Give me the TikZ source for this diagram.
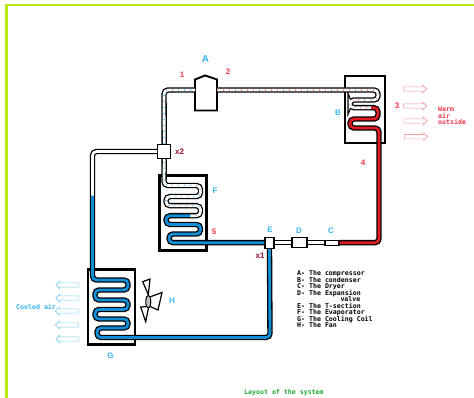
\documentclass[tikz,border=0pt]{standalone}
\usepackage{fontspec}
\setmainfont{Liberation Sans}
\setmonofont{DejaVu Sans Mono}
\setlength{\normallineskiplimit}{-5pt}
\setlength{\lineskiplimit}{-5pt}
\definecolor{frame}{HTML}{B9E80F}
\definecolor{coolblue}{HTML}{0F8FD8}
\definecolor{hotred}{HTML}{E01B24}
\definecolor{labblue}{HTML}{35B4F0}
\definecolor{labred}{HTML}{F0384A}
\definecolor{darkred}{HTML}{A01030}
\definecolor{airred}{HTML}{F59AA0}
\definecolor{airblue}{HTML}{7CCFF5}
\definecolor{capgreen}{HTML}{22A838}
\usetikzlibrary{shapes.arrows, shapes.geometric}

\begin{document}
\begin{tikzpicture}[x=1pt, y=-1pt,
  pipe/.style={draw=black, line width=1.3pt, double distance=2.8pt, rounded corners=4pt},
  cold/.style={pipe, double=coolblue},
  hot/.style={pipe, double=hotred},
  plain/.style={pipe, double=white},
  tickblue/.style={line width=1.6pt, airblue, dash pattern=on 1pt off 5pt, rounded corners=4pt},
  tickred/.style={line width=1.6pt, airred, dash pattern=on 1pt off 5pt, rounded corners=4pt},
  coil/.style={draw, line width=2.1pt, inner sep=0pt},
  part/.style={draw, line width=1.3pt, fill=white, inner sep=0pt},
  wind/.style={single arrow, draw, line width=0.6pt, inner sep=1.6pt, minimum height=23pt,
               minimum width=8pt, single arrow head extend=1.6pt, single arrow head indent=0pt},
  warm/.style={wind, airred},
  cool/.style={wind, airblue, shape border rotate=180},
  lab/.style={font=\fontsize{8}{8}\selectfont\bfseries, inner sep=0pt},
  txt/.style={font=\fontsize{6.6}{6.5}\ttfamily\bfseries\selectfont, inner sep=0pt, align=left},
]
\useasboundingbox (0,0) rectangle (474,398);

% Frame
\draw[frame, line width=2.4pt] (6.6,398) -- (6.6,5) -- (474,5);

% Coils and fittings
\node[coil, minimum width=40pt, minimum height=67pt] (cond) at (365.3,109.3) {};
\node[coil, minimum width=47pt, minimum height=75pt] (evap) at (183,213) {};
\node[coil, minimum width=47pt, minimum height=75pt] (cooler) at (111.7,307) {};
\node[part, minimum width=13pt, minimum height=14pt] (tee2) at (164.2,151.5) {};
\node[part, minimum width=9pt, minimum height=11pt] (tee1) at (269.5,242.7) {};
\node[part, minimum width=15pt, minimum height=10pt] (valve) at (299.5,242.7) {};
\node[part, minimum width=14pt, minimum height=5pt] (dryer) at (332,242.7) {};

% Compressor
\coordinate (compin) at (195,90);
\coordinate (compout) at (217,90);
\draw[line width=1.9pt, fill=white] (195,110.5) -- (195,79.5) -- (205,75.5) -- (217,79.5) -- (217,110.5) -- cycle;

% Pipes
\draw[plain] (tee2.north) -- (164,90) -- (compin);
\draw[tickblue] (tee2.north) -- (164,90) -- (compin);
\draw[plain] (compout) -- (378,90) -- (378,100) -- (350,100) -- (350,107.7) -- (371,107.7);
\draw[tickred] (compout) -- (378,90) -- (378,100) -- (350,100) -- (350,107.7) -- (371,107.7);
\draw[hot] (371,107.7) -- (378,107.7) -- (378,119) -- (350,119) -- (350,128) -- (379,128) -- (379,242.7) -- (dryer.east);
\draw[plain] (dryer.west) -- (valve.east);
\draw[plain] (valve.west) -- (tee1.east);
\draw[cold] (tee1.west) -- (169,242.7) -- (169,234) -- (200.5,234) -- (200.5,224.5) -- (166,224.5) -- (166,215.7) -- (190,215.7);
\draw[plain] (190,215.7) -- (200.5,215.7) -- (200.5,205.7) -- (166,205.7) -- (166,196.5) -- (200.5,196.5) -- (200.5,185.5) -- (164,185.5) -- (tee2.south);
\draw[tickblue] (190,215.7) -- (200.5,215.7) -- (200.5,205.7) -- (166,205.7) -- (166,196.5) -- (200.5,196.5) -- (200.5,185.5) -- (164,185.5) -- (tee2.south);
\draw[plain] (tee2.west) -- (92.5,151.5) -- (92.5,196);
\draw[cold] (92.5,196) -- (92.5,280) -- (128,280) -- (128,290) -- (95,290) -- (95,300) -- (128,300) -- (128,309.5) -- (95,309.5) -- (95,319) -- (128,319) -- (128,328) -- (97,328) -- (97,337.5) -- (270,337.5) -- (tee1.south);

% Fan
\node[draw, ellipse, line width=1pt, minimum width=5pt, minimum height=13pt, inner sep=0pt, fill=black!25] (fan) at (148.3,301.7) {};
\draw[line width=1.2pt] (fan.north) -- (142.7,281.7) -- (150,279) -- (fan.north);
\draw[line width=1.2pt] (fan.north east) -- (162,292.5) -- (158,310) -- (fan.south east);
\draw[line width=1.2pt] (fan.south) -- (145.7,321.7) -- (140.7,307) -- (fan.south west);

% Air arrows
\node[warm] (w1) at (414,89) {};
\node[warm] (w2) at (414,106) {};
\node[warm] (w3) at (414.5,121) {};
\node[warm] (w4) at (415,136.7) {};
\node[cool] (c1) at (68.5,285) {};
\node[cool] (c2) at (68.5,298) {};
\node[cool] (c3) at (68,311) {};
\node[cool] (c4) at (68,325) {};
\node[cool] (c5) at (68.5,339) {};

% Labels
\node[lab, labblue, font=\fontsize{10}{10}\selectfont\bfseries] (la) at (205.5,59) {A};
\node[lab, labred] (l1) at (182,75) {1};
\node[lab, labred] (l2) at (228,72) {2};
\node[lab, labred] (l3) at (397,106) {3};
\node[lab, labred] (l4) at (363,163) {4};
\node[lab, labred] (l5) at (214,232) {5};
\node[lab, darkred] (lx2) at (179.5,152) {x2};
\node[lab, darkred] (lx1) at (260,256) {x1};
\node[lab, labblue] (lb) at (338,113) {B};
\node[lab, labblue] (lc) at (331,231) {C};
\node[lab, labblue] (ld) at (299,231) {D};
\node[lab, labblue] (le) at (270,230) {E};
\node[lab, labblue] (lf) at (215,191) {F};
\node[lab, labblue] (lg) at (110.5,356) {G};
\node[lab, labblue] (lh) at (172,300.5) {H};

% Texts
\node[txt, labred, anchor=north west] (warmtxt) at (438,106.5) {Warm\\air\\outside};
\node[txt, labblue, anchor=west] (cooltxt) at (16,307) {Cooled air};
\node[txt, black, anchor=north west] (legend) at (297,270.5) {%
A- The compressor\\
B- The condenser\\
C- The Dryer\\
D- The Expansion\\
\hspace*{12ex}valve\\
E- The T-section\\
F- The Evaporator\\
G- The Cooling Coil\\
H- The Fan};
\node[txt, capgreen, anchor=west] (caption) at (244,392.5) {Layout of the system};
\end{tikzpicture}
\end{document}
